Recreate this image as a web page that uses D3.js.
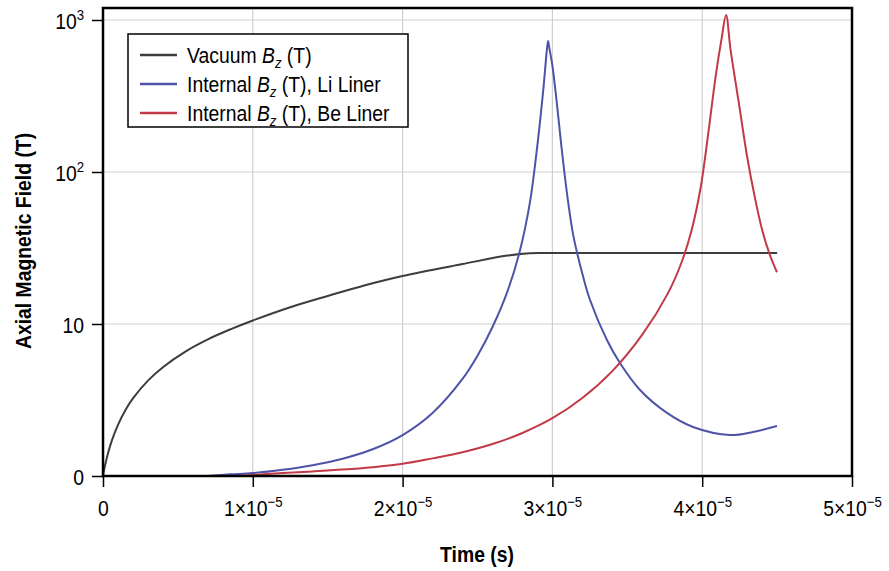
<!DOCTYPE html>
<html>
<head>
<meta charset="utf-8">
<script src="https://cdn.jsdelivr.net/npm/d3@7"></script>
<style>
  body { margin: 0; background: #fff; }
  svg { display: block; }
  text { font-family: "Liberation Sans", Arial, sans-serif; }
</style>
</head>
<body>
<svg id="chart" width="889" height="571"></svg>
<script>
// ---- Data (time in seconds, field in tesla; bottom of log axis = 1, labelled "0") ----
const vacuumT = [0, 0.01e-5, 0.03e-5, 0.06e-5, 0.1e-5, 0.15e-5, 0.2e-5, 0.3e-5, 0.4e-5, 0.55e-5, 0.7e-5, 0.85e-5, 1.0e-5, 1.25e-5, 1.5e-5, 1.75e-5, 2.0e-5, 2.4e-5, 2.7e-5, 2.85e-5, 2.95e-5, 3.5e-5, 4.5e-5];
const vacuumB = [1, 1.13, 1.37, 1.72, 2.17, 2.72, 3.24, 4.24, 5.2, 6.59, 7.93, 9.22, 10.55, 12.9, 15.3, 18.0, 20.7, 24.8, 28.2, 29.2, 29.3, 29.3, 29.3];

const liT = [0.7e-5, 0.85e-5, 1.0e-5, 1.2e-5, 1.4e-5, 1.6e-5, 1.8e-5, 2.0e-5, 2.2e-5, 2.4e-5, 2.5e-5, 2.6e-5, 2.7e-5, 2.78e-5, 2.85e-5, 2.9e-5, 2.94e-5, 2.962e-5, 2.971e-5, 2.98e-5, 3.0e-5, 3.03e-5, 3.06e-5, 3.1e-5, 3.14e-5, 3.2e-5, 3.25e-5, 3.364e-5, 3.451e-5, 3.585e-5, 3.765e-5, 3.939e-5, 4.186e-5, 4.339e-5, 4.499e-5];
const liB = [1.0, 1.025, 1.045, 1.099, 1.178, 1.30, 1.50, 1.86, 2.60, 4.35, 6.18, 9.55, 16.4, 29.5, 63.1, 151, 355, 620, 728, 650, 501, 282, 148, 69.2, 38.0, 21.4, 14.5, 7.85, 5.54, 3.68, 2.60, 2.10, 1.86, 1.95, 2.13];

const beT = [0.9e-5, 1.2e-5, 1.4e-5, 1.6e-5, 1.8e-5, 2.0e-5, 2.2e-5, 2.4e-5, 2.6e-5, 2.8e-5, 3.0e-5, 3.2e-5, 3.4e-5, 3.6e-5, 3.77e-5, 3.86e-5, 3.93e-5, 3.99e-5, 4.04e-5, 4.09e-5, 4.13e-5, 4.159e-5, 4.19e-5, 4.25e-5, 4.3e-5, 4.35e-5, 4.4e-5, 4.45e-5, 4.499e-5];
const beB = [1.0, 1.047, 1.072, 1.102, 1.143, 1.202, 1.306, 1.432, 1.622, 1.919, 2.399, 3.258, 4.898, 8.511, 15.85, 25.1, 41.7, 79.4, 178, 427, 759, 1079, 631, 263, 126, 69.2, 41.7, 28.8, 21.9];

const xTicks = [0, 1e-5, 2e-5, 3e-5, 4e-5, 5e-5];
const xTickMant = ["0", "1", "2", "3", "4", "5"];
const yTicks = [1, 10, 100, 1000];
const yTickBase = ["0", "10", "10", "10"];
const yTickExp = ["", "", "2", "3"];
const gridX = [1e-5, 2e-5, 3e-5, 4e-5];
const gridY = [10, 100, 1000];

const seriesNames = ["Vacuum", "Internal", "Internal"];
const seriesSuffix = [" (T)", " (T), Li Liner", " (T), Be Liner"];
const seriesColors = ["#3d3d3d", "#4f53a8", "#c23a45"];

// ---- Layout ----
const svg = d3.select("#chart");
const mLeft = 103, mRight = 852, mTop = 8, mBottom = 476;
const NARROW = 0.88;

const x = d3.scaleLinear().domain([0, 5e-5]).range([mLeft, mRight]);
const y = d3.scaleLog().domain([1, 1000]).range([mBottom, 20]);

// grid
svg.append("g").selectAll("line").data(gridX).join("line")
  .attr("x1", d => x(d)).attr("x2", d => x(d))
  .attr("y1", mTop).attr("y2", mBottom)
  .attr("stroke", "#cfcfcf").attr("stroke-width", 1.2);
svg.append("g").selectAll("line").data(gridY).join("line")
  .attr("x1", mLeft).attr("x2", mRight)
  .attr("y1", d => y(d)).attr("y2", d => y(d))
  .attr("stroke", "#cfcfcf").attr("stroke-width", 1.2);

// lines
const series = [
  vacuumT.map((t, i) => [t, vacuumB[i]]),
  liT.map((t, i) => [t, liB[i]]),
  beT.map((t, i) => [t, beB[i]])
];
const line = d3.line().x(d => x(d[0])).y(d => y(d[1])).curve(d3.curveCatmullRom.alpha(0.5));
const plot = svg.append("g");
series.forEach((s, i) => {
  plot.append("path").datum(s)
    .attr("fill", "none")
    .attr("stroke", seriesColors[i])
    .attr("stroke-width", 2)
    .attr("stroke-linejoin", "round")
    .attr("d", line);
});

// frame
svg.append("rect")
  .attr("x", mLeft).attr("y", mTop)
  .attr("width", mRight - mLeft).attr("height", mBottom - mTop)
  .attr("fill", "none").attr("stroke", "#000").attr("stroke-width", 2.5);

// x axis
const xAxis = svg.append("g")
  .attr("transform", `translate(0,${mBottom})`)
  .call(d3.axisBottom(x).tickValues(xTicks).tickSize(11).tickFormat(""));
xAxis.select(".domain").remove();
xAxis.selectAll(".tick line").attr("stroke", "#000").attr("stroke-width", 1.5);
xAxis.selectAll(".tick").each(function(d, i) {
  const t = d3.select(this).append("g")
    .attr("transform", `translate(0,40) scale(${NARROW},1)`)
    .append("text")
    .attr("fill", "#000")
    .attr("text-anchor", "middle")
    .attr("font-size", 22);
  if (i === 0) {
    t.text(xTickMant[i]);
  } else {
    t.append("tspan").text(xTickMant[i] + "\u00D710");
    t.append("tspan").attr("dy", -9).attr("font-size", 15).text("\u22125");
  }
});

// y axis
const yAxis = svg.append("g")
  .attr("transform", `translate(${mLeft},0)`)
  .call(d3.axisLeft(y).tickValues(yTicks).tickSize(11).tickFormat(""));
yAxis.select(".domain").remove();
yAxis.selectAll(".tick line").attr("stroke", "#000").attr("stroke-width", 1.5);
yAxis.selectAll(".tick").each(function(d, i) {
  const t = d3.select(this).append("g")
    .attr("transform", `translate(-19,8) scale(${NARROW},1)`)
    .append("text")
    .attr("fill", "#000")
    .attr("text-anchor", "end")
    .attr("font-size", 22);
  t.append("tspan").text(yTickBase[i]);
  if (yTickExp[i]) t.append("tspan").attr("dy", -9).attr("font-size", 15).text(yTickExp[i]);
});

// axis titles
svg.append("g").attr("transform", `translate(477,562) scale(${NARROW},1)`)
  .append("text")
  .attr("text-anchor", "middle")
  .attr("font-size", 22).attr("font-weight", "bold")
  .text("Time (s)");
svg.append("g").attr("transform", `translate(31,241) rotate(-90) scale(${NARROW},1)`)
  .append("text")
  .attr("text-anchor", "middle")
  .attr("font-size", 22).attr("font-weight", "bold")
  .text("Axial Magnetic Field (T)");

// legend
const lg = svg.append("g");
lg.append("rect")
  .attr("x", 128).attr("y", 34).attr("width", 280).attr("height", 93)
  .attr("fill", "#fff").attr("stroke", "#000").attr("stroke-width", 1.5);
seriesNames.forEach((name, i) => {
  const cy = 55 + i * 29;
  lg.append("line")
    .attr("x1", 140).attr("x2", 177).attr("y1", cy).attr("y2", cy)
    .attr("stroke", seriesColors[i]).attr("stroke-width", 2.5);
  const t = lg.append("g").attr("transform", `translate(187,${cy + 8}) scale(${NARROW},1)`)
    .append("text")
    .attr("font-size", 22).attr("fill", "#000");
  t.append("tspan").text(name + " ");
  t.append("tspan").attr("font-style", "italic").text("B");
  t.append("tspan").attr("dy", 5).attr("font-size", 15).attr("font-style", "italic").text("z");
  t.append("tspan").attr("dy", -5).text(seriesSuffix[i]);
});
</script>
</body>
</html>
